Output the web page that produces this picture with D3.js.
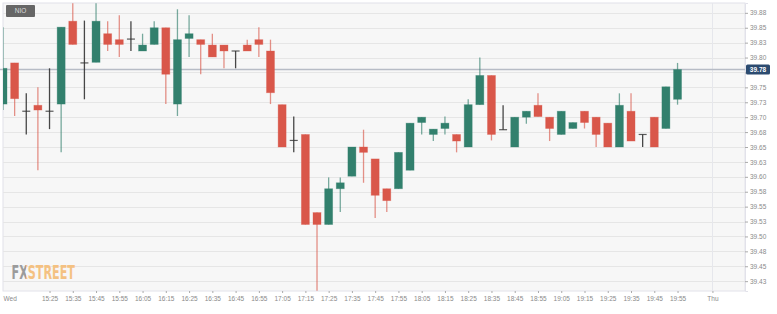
<!DOCTYPE html>
<html>
<head>
<meta charset="utf-8">
<script src="https://cdn.jsdelivr.net/npm/d3@7"></script>
<style>
  body { margin: 0; background: #fff; }
  text { font-family: "Liberation Sans", Arial, sans-serif; }
</style>
</head>
<body>
<script>
// 5-minute candles, NIO
const times = ["15:05","15:10","15:15","15:20","15:25","15:30","15:35","15:40","15:45","15:50",
  "15:55","16:00","16:05","16:10","16:15","16:20","16:25","16:30","16:35","16:40",
  "16:45","16:50","16:55","17:00","17:05","17:10","17:15","17:20","17:25","17:30",
  "17:35","17:40","17:45","17:50","17:55","18:00","18:05","18:10","18:15","18:20",
  "18:25","18:30","18:35","18:40","18:45","18:50","18:55","19:00","19:05","19:10",
  "19:15","19:20","19:25","19:30","19:35","19:40","19:45","19:50","19:55"];
const open  = [39.722,39.791,39.710,39.720,39.710,39.722,39.861,39.791,39.792,39.840,
  39.830,39.831,39.811,39.822,39.850,39.722,39.832,39.830,39.821,39.821,
  39.811,39.821,39.830,39.811,39.721,39.661,39.671,39.540,39.520,39.580,
  39.601,39.650,39.630,39.580,39.580,39.611,39.691,39.671,39.681,39.671,
  39.650,39.721,39.770,39.679,39.650,39.700,39.720,39.700,39.671,39.681,
  39.710,39.700,39.690,39.650,39.710,39.671,39.700,39.681,39.730];
const high  = [39.851,39.791,39.740,39.750,39.782,39.851,39.891,39.862,39.891,39.861,
  39.871,39.861,39.840,39.861,39.850,39.881,39.871,39.830,39.840,39.821,
  39.811,39.830,39.851,39.830,39.721,39.701,39.671,39.540,39.599,39.599,
  39.650,39.679,39.630,39.580,39.641,39.690,39.700,39.680,39.701,39.671,
  39.730,39.800,39.770,39.720,39.700,39.710,39.740,39.700,39.710,39.691,
  39.710,39.700,39.690,39.740,39.740,39.671,39.700,39.751,39.791];
const low   = [39.712,39.702,39.671,39.611,39.680,39.641,39.822,39.730,39.792,39.811,
  39.801,39.811,39.811,39.822,39.722,39.702,39.801,39.772,39.801,39.782,
  39.782,39.811,39.801,39.722,39.650,39.641,39.520,39.409,39.520,39.541,
  39.601,39.590,39.531,39.541,39.580,39.611,39.671,39.660,39.671,39.641,
  39.650,39.721,39.661,39.679,39.650,39.689,39.701,39.660,39.671,39.681,
  39.681,39.650,39.650,39.650,39.660,39.650,39.650,39.681,39.721];
const close = [39.782,39.731,39.710,39.712,39.710,39.851,39.822,39.791,39.861,39.822,
  39.822,39.831,39.821,39.850,39.772,39.830,39.840,39.822,39.801,39.811,
  39.811,39.811,39.822,39.741,39.650,39.661,39.520,39.520,39.580,39.590,
  39.650,39.641,39.569,39.560,39.641,39.690,39.700,39.680,39.690,39.660,
  39.721,39.770,39.671,39.679,39.700,39.710,39.701,39.681,39.710,39.691,
  39.691,39.671,39.650,39.720,39.660,39.671,39.650,39.751,39.780];

const lastPrice = 39.78;
const symbol = "NIO";

const xTickTimes = ["15:05","15:25","15:35","15:45","15:55","16:05","16:15","16:25","16:35","16:45",
  "16:55","17:05","17:15","17:25","17:35","17:45","17:55","18:05","18:15","18:25",
  "18:35","18:45","18:55","19:05","19:15","19:25","19:35","19:45","19:55","20:10"];
const xTickLabels = ["Wed","15:25","15:35","15:45","15:55","16:05","16:15","16:25","16:35","16:45",
  "16:55","17:05","17:15","17:25","17:35","17:45","17:55","18:05","18:15","18:25",
  "18:35","18:45","18:55","19:05","19:15","19:25","19:35","19:45","19:55","Thu"];
const yTicks = [39.425,39.45,39.475,39.5,39.525,39.55,39.575,39.6,39.625,39.65,
  39.675,39.7,39.725,39.75,39.775,39.8,39.825,39.85,39.875];
// the 39.78 tick label sits under the last-price tag, so it is left blank
const yTickLabels = ["39.43","39.45","39.48","39.50","39.53","39.55","39.58","39.60","39.63","39.65",
  "39.68","39.70","39.73","39.75","","39.80","39.83","39.85","39.88"];

const W = 777, H = 314;
const plot = {left: 3, top: 3, right: 745, bottom: 291};

const parseT = d3.timeParse("%H:%M");
const data = times.map((t, i) => ({
  t: parseT(t), o: open[i], h: high[i], l: low[i], c: close[i]
}));

const svg = d3.select("body").append("svg")
  .attr("width", W).attr("height", H);

let x = d3.scaleTime()
  .domain([parseT("15:05"), parseT("20:24")])
  .range([plot.left, plot.right]);

let y = d3.scaleLinear()
  .domain([39.4085, 39.8915])
  .range([plot.bottom, plot.top]);

// plot background
svg.append("rect")
  .attr("x", plot.left).attr("y", plot.top)
  .attr("width", plot.right - plot.left).attr("height", plot.bottom - plot.top)
  .attr("fill", "#f7f7f7")
  .attr("stroke", "#e2e2ea");

const defs = svg.append("defs");
defs.append("clipPath").attr("id", "clip")
  .append("rect")
  .attr("x", plot.left).attr("y", plot.top)
  .attr("width", plot.right - plot.left).attr("height", plot.bottom - plot.top);

// grid
svg.append("g").selectAll("line")
  .data(yTicks).enter().append("line")
  .attr("x1", plot.left).attr("x2", plot.right)
  .attr("y1", d => Math.round(y(d)) + 0.5).attr("y2", d => Math.round(y(d)) + 0.5)
  .attr("stroke", "#e6e6e6");

svg.append("line")
  .attr("x1", Math.round(x(parseT("20:10"))) + 0.5).attr("x2", Math.round(x(parseT("20:10"))) + 0.5)
  .attr("y1", plot.top).attr("y2", plot.bottom)
  .attr("stroke", "#e6e7ec");

// FXSTREET watermark: one text, grey "FX" and orange "STREET" via a hard-stop gradient
const wmGrad = defs.append("linearGradient").attr("id", "wm")
  .attr("gradientUnits", "userSpaceOnUse")
  .attr("x1", 11.5).attr("x2", 75).attr("y1", 0).attr("y2", 0);
wmGrad.append("stop").attr("offset", 0.235).attr("stop-color", "#9b9b9b");
wmGrad.append("stop").attr("offset", 0.235).attr("stop-color", "#f4c182");
svg.append("text").attr("x", 11.5).attr("y", 279)
  .attr("fill", "url(#wm)")
  .attr("textLength", 63.5).attr("lengthAdjust", "spacingAndGlyphs")
  .style("font-family", "'DejaVu Sans Condensed', sans-serif")
  .style("font-weight", "bold")
  .style("font-size", "20px")
  .text("FXSTREET");

// last price line
svg.append("line")
  .attr("x1", 0).attr("x2", plot.right)
  .attr("y1", y(lastPrice)).attr("y2", y(lastPrice))
  .attr("stroke", "#b7bcc6").attr("stroke-width", 1.6);

// candles
const green = "#32806d", red = "#d9574a", flat = "#333";
const colorOf = d => d.c > d.o ? green : d.c < d.o ? red : flat;
const bw = 8;

let candles = svg.append("g").attr("clip-path", "url(#clip)")
  .selectAll("g").data(data).enter().append("g");

candles.append("line")
  .attr("x1", d => x(d.t)).attr("x2", d => x(d.t))
  .attr("y1", d => y(d.h)).attr("y2", d => y(d.l))
  .attr("stroke", colorOf)
  .attr("stroke-opacity", d => d.c === d.o ? 0.9 : 0.65)
  .attr("stroke-width", 1.3);

candles.filter(d => d.c !== d.o).append("rect")
  .attr("x", d => x(d.t) - bw / 2)
  .attr("width", bw)
  .attr("y", d => y(Math.max(d.o, d.c)))
  .attr("height", d => Math.max(1, Math.abs(y(d.o) - y(d.c))))
  .attr("fill", colorOf)
  .attr("stroke", colorOf).attr("stroke-opacity", 0.4).attr("stroke-width", 0.8);

candles.filter(d => d.c === d.o).append("line")
  .attr("x1", d => x(d.t) - bw / 2).attr("x2", d => x(d.t) + bw / 2)
  .attr("y1", d => y(d.o)).attr("y2", d => y(d.o))
  .attr("stroke", flat).attr("stroke-opacity", 0.8).attr("stroke-width", 1.2);

// axes
const xAxis = d3.axisBottom(x)
  .tickValues(xTickTimes.map(parseT))
  .tickFormat((d, i) => xTickLabels[i])
  .tickSize(2).tickPadding(3);

let gx = svg.append("g")
  .attr("transform", `translate(0, ${plot.bottom})`)
  .call(xAxis);
gx.select(".domain").remove();
gx.selectAll(".tick line").attr("stroke", "#aaa");
gx.selectAll(".tick text")
  .attr("fill", "#8a8a8a")
  .style("font-size", "6.5px");
gx.selectAll(".tick").filter((d, i) => i === 0).select("line").remove();
gx.selectAll(".tick").filter((d, i) => i === 0).select("text")
  .attr("text-anchor", "start").attr("x", 0);

const yAxis = d3.axisRight(y)
  .tickValues(yTicks)
  .tickFormat((d, i) => yTickLabels[i])
  .tickSize(3).tickPadding(2);

let gy = svg.append("g")
  .attr("transform", `translate(${plot.right}, 0)`)
  .call(yAxis);
gy.select(".domain").attr("stroke", "#e2e2ea");
gy.selectAll(".tick line").attr("stroke", "#aaa");
gy.selectAll(".tick text")
  .attr("fill", "#8a8a8a")
  .style("font-size", "6.5px");

// last price tag
svg.append("rect")
  .attr("x", plot.right + 1).attr("y", y(lastPrice) - 5)
  .attr("width", 24).attr("height", 10)
  .attr("rx", 1.5)
  .attr("fill", "#2c4b70");
svg.append("text")
  .attr("x", plot.right + 13).attr("y", y(lastPrice) + 2.3)
  .attr("text-anchor", "middle")
  .attr("fill", "#fff")
  .style("font-size", "6.5px").style("font-weight", "bold")
  .text(d3.format(".2f")(lastPrice));

// symbol tag
svg.append("rect")
  .attr("x", 6).attr("y", 5).attr("width", 29).attr("height", 12)
  .attr("rx", 1)
  .attr("fill", "#666");
svg.append("text")
  .attr("x", 20.5).attr("y", 13.3)
  .attr("text-anchor", "middle")
  .attr("fill", "#ddd")
  .style("font-size", "6.5px")
  .text(symbol);
</script>
</body>
</html>
